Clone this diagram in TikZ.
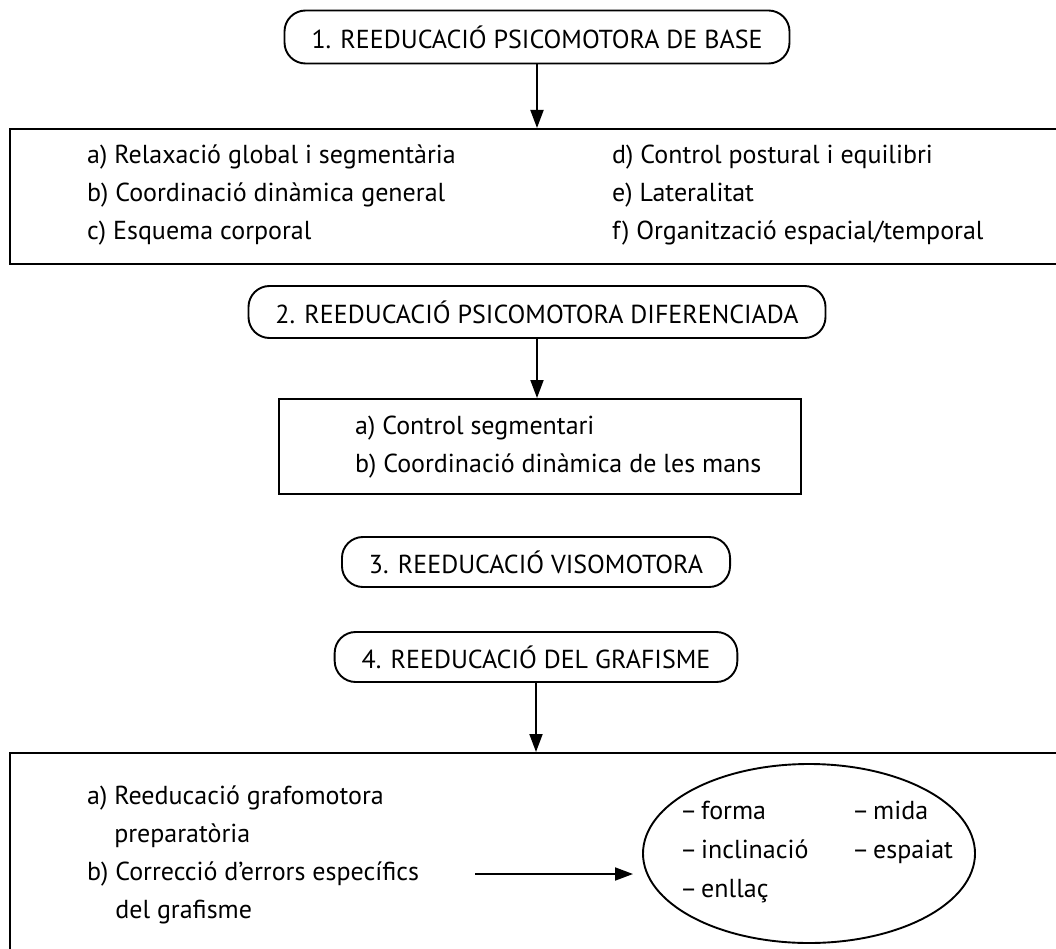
\documentclass[tikz,border=0pt]{standalone}
\usepackage{fontspec}
\setmainfont{PT Sans}
\usetikzlibrary{arrows.meta,shapes.geometric}
\newcommand{\dsh}{–\hspace{0.15em}}
\begin{document}
\begin{tikzpicture}[x=1pt,y=-1pt,
  font=\fontsize{26}{30}\selectfont,
  rbox/.style={draw,line width=1.9pt,rounded corners=21pt,minimum height=53pt,inner xsep=27pt,inner ysep=0pt},
  frame/.style={draw,line width=1.9pt,anchor=north west,inner sep=0pt},
  item/.style={anchor=base west,inner sep=0pt},
  arr/.style={line width=1.9pt,-{Triangle[length=18pt,width=13pt]}}]
\useasboundingbox (0,0) rectangle (1056,949);
\clip (0,0) rectangle (1056,949);
% stage 1
\node[rbox] (h1) at (537,37) {1. REEDUCACIÓ PSICOMOTORA DE BASE};
\node[frame,minimum width=1100pt,minimum height=135pt] (fA) at (9,128) {};
\node[item] (a1) at (87,163.5) {a) Relaxació global i segmentària};
\node[item] (b1) at (87,201.5) {b) Coordinació dinàmica general};
\node[item] (c1) at (87,239.5) {c) Esquema corporal};
\node[item] (d1) at (612,163.5) {d) Control postural i equilibri};
\node[item] (e1) at (612,201.5) {e) Lateralitat};
\node[item] (f1) at (612,239.5) {f) Organització espacial/temporal};
\draw[arr] (h1.south) -- (h1.south |- fA.north);
% stage 2
\node[rbox,minimum height=52pt] (h2) at (537,312) {2. REEDUCACIÓ PSICOMOTORA DIFERENCIADA};
\node[frame,minimum width=522pt,minimum height=95pt] (fB) at (278,398) {};
\node[item] (a2) at (355,434.5) {a) Control segmentari};
\node[item] (b2) at (355,472.5) {b) Coordinació dinàmica de les mans};
\draw[arr] (h2.south) -- (h2.south |- fB.north);
% stage 3
\node[rbox,minimum height=50pt] (h3) at (536,562) {3. REEDUCACIÓ VISOMOTORA};
% stage 4
\node[rbox,minimum height=50pt] (h4) at (536,657) {4. REEDUCACIÓ DEL GRAFISME};
\node[frame,minimum width=1100pt,minimum height=250pt] (fC) at (9,752) {};
\draw[arr] (h4.south) -- (h4.south |- fC.north);
\node[item] (a4) at (87,804.5) {a) Reeducació grafomotora};
\node[item] (a4b) at (87,842.5) {\phantom{a) }preparatòria};
\node[item] (b4) at (87,880.5) {b) Correcció d’errors específics};
\node[item] (b4b) at (87,918.5) {\phantom{b) }del grafisme};
\node[draw,ellipse,line width=1.9pt,minimum width=332pt,minimum height=179pt,inner sep=0pt] (el) at (809,853.5) {};
\node[item] (e1a) at (680,819.5) {\dsh forma};
\node[item] (e1b) at (852,819.5) {\dsh mida};
\node[item] (e2a) at (680,858.5) {\dsh inclinació};
\node[item] (e2b) at (852,858.5) {\dsh espaiat};
\node[item] (e3a) at (680,897.5) {\dsh enllaç};
\coordinate (s) at (475,874);
\coordinate (t) at (633,874);
\draw[arr] (s) -- (t);
\end{tikzpicture}
\end{document}
